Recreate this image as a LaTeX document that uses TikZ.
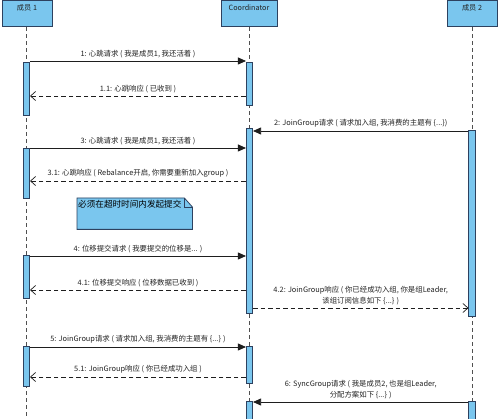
\documentclass[tikz,border=0pt]{standalone}
\usepackage{fontspec}
\setmainfont{Noto Sans CJK SC}
\usetikzlibrary{arrows.meta}
\definecolor{fillc}{RGB}{122,198,238}
\definecolor{bordc}{RGB}{45,65,95}
\definecolor{linec}{RGB}{30,30,30}
\definecolor{lifec}{RGB}{80,80,80}
\definecolor{txtc}{RGB}{35,35,35}
\tikzset{
  head/.style={draw=bordc, fill=fillc, line width=0.8pt, minimum height=26pt, inner sep=0pt, anchor=north,
    text height=10pt, text depth=16pt, font=\fontsize{7.2}{8}\selectfont, text=txtc},
  bar/.style={draw=bordc, fill=fillc, line width=0.6pt, minimum width=6.5pt, inner sep=0pt, anchor=north},
  life/.style={draw=lifec, line width=0.8pt, dash pattern=on 4pt off 3pt},
  sync/.style={draw=linec, line width=0.8pt, -{Triangle[length=8pt,width=7pt]}},
  ret/.style={draw=linec, line width=0.8pt, dash pattern=on 4.5pt off 3pt, -{Straight Barb[length=5pt,width=9pt,line width=0.7pt]}},
  lbl/.style={font=\fontsize{7.4}{11}\selectfont, text=txtc, inner sep=0pt, align=center},
  notebox/.style={draw=bordc, fill=fillc, line width=0.8pt},
}
\begin{document}
\begin{tikzpicture}[x=1pt,y=-1pt]
\useasboundingbox (0,0) rectangle (500,419);
\fill[white] (0,0) rectangle (500,419);
% headers
\node[head, minimum width=50pt] (m1) at (27,0.5) {成员 1};
\node[head, minimum width=56pt] (co) at (249,0.5) {Coordinator};
\node[head, minimum width=50pt] (m2) at (472,0.5) {成员 2};
% lifelines
\coordinate (m1end) at (26.5,425);
\coordinate (coend) at (249.5,425);
\coordinate (m2end) at (472,425);
\draw[life] (m1.south -| m1end) -- (m1end);
\draw[life] (co.south -| coend) -- (coend);
\draw[life] (m2.south -| m2end) -- (m2end);
% activation bars
\node[bar, minimum height=53pt] (m1b1) at (26.5,62) {};
\node[bar, minimum height=50pt] (m1b2) at (26.5,148) {};
\node[bar, minimum height=43pt] (m1b3) at (26.5,255) {};
\node[bar, minimum height=40pt] (m1b4) at (26.5,346) {};
\node[bar, minimum height=43pt] (cob1) at (249.5,62) {};
\node[bar, minimum height=185pt] (cob2) at (249.5,128) {};
\node[bar, minimum height=37pt] (cob3) at (249.5,346) {};
\node[bar, minimum height=30pt] (cob4) at (249.5,401) {};
\node[bar, minimum height=186pt] (m2b1) at (472,130) {};
\node[bar, minimum height=30pt] (m2b2) at (472,401) {};
% messages
\draw[sync] (m1b1.east |- 0,61) -- node[lbl, above=3pt] {1: 心跳请求 ( 我是成员1, 我还活着 )} (cob1.west |- 0,61);
\draw[ret] (cob1.west |- 0,96) -- node[lbl, above=3pt] {1.1: 心跳响应 ( 已收到 )} (m1b1.east |- 0,96);
\draw[sync] (m2b1.west |- 0,131) -- node[lbl, above=3pt] {2: JoinGroup请求 ( 请求加入组, 我消费的主题有 \{...\})} (cob2.east |- 0,131);
\draw[sync] (m1b2.east |- 0,148) -- node[lbl, above=3pt] {3: 心跳请求 ( 我是成员1, 我还活着 )} (cob2.west |- 0,148);
\draw[ret] (cob2.west |- 0,181) -- node[lbl, above=3pt] {3.1: 心跳响应 ( Rebalance开启, 你需要重新加入group )} (m1b2.east |- 0,181);
\draw[sync] (m1b3.east |- 0,256) -- node[lbl, above=3pt] {4: 位移提交请求 ( 我要提交的位移是... )} (cob2.west |- 0,256);
\draw[ret] (cob2.west |- 0,290) -- node[lbl, above=3pt] {4.1: 位移提交响应 ( 位移数据已收到 )} (m1b3.east |- 0,290);
\draw[ret] (cob2.east |- 0,308) -- node[lbl, above=3pt] {4.2: JoinGroup响应 ( 你已经成功入组, 你是组Leader,\\该组订阅信息如下 \{...\} )} (m2b1.west |- 0,308);
\draw[sync] (m1b4.east |- 0,347) -- node[lbl, above=3pt] {5: JoinGroup请求 ( 请求加入组, 我消费的主题有 \{...\} )} (cob3.west |- 0,347);
\draw[ret] (cob3.west |- 0,377) -- node[lbl, above=3pt] {5.1: JoinGroup响应 ( 你已经成功入组 )} (m1b4.east |- 0,377);
\draw[sync] (m2b2.west |- 0,402) -- node[lbl, above=3pt] {6: SyncGroup请求 ( 我是成员2, 也是组Leader,\\分配方案如下 \{...\} )} (cob4.east |- 0,402);
% note
\node[minimum width=115pt, minimum height=31pt, inner sep=0pt, anchor=north west] (note) at (77,198) {};
\draw[notebox] (note.north west) -- ([xshift=-8pt]note.north east) -- ([yshift=-9pt]note.north east) -- (note.south east) -- (note.south west) -- cycle;
\draw[bordc, line width=0.6pt] ([xshift=-8pt]note.north east) -- ++(0,9) -- ([yshift=-9pt]note.north east);
\node[anchor=north west, inner sep=0pt, font=\fontsize{8.6}{10}\selectfont, text=black] (notetext) at (78,199.5) {必须在超时时间内发起提交};
\end{tikzpicture}
\end{document}
